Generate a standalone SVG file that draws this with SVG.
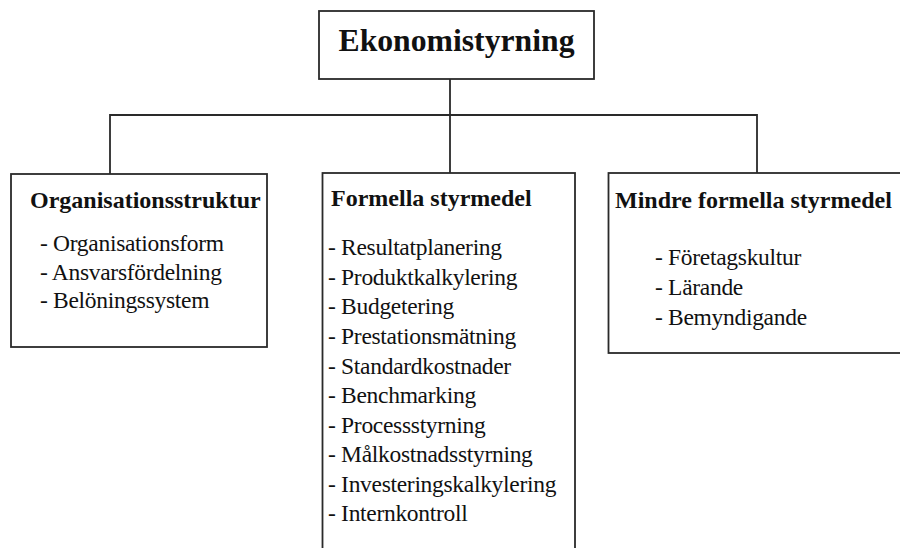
<svg xmlns="http://www.w3.org/2000/svg" width="900" height="548" viewBox="0 0 900 548">
<style>
.box{fill:#fff;stroke:#2a2a2a;stroke-width:1.8}
.con{fill:none;stroke:#2a2a2a;stroke-width:1.8}
.title{font-family:"Liberation Serif","Times New Roman",serif;font-weight:bold;font-size:31.7px;fill:#111}
.head{font-family:"Liberation Serif","Times New Roman",serif;font-weight:bold;font-size:24px;fill:#111}
.item{font-family:"Liberation Serif","Times New Roman",serif;font-size:23.5px;letter-spacing:-0.3px;fill:#111}
</style>
<rect width="900" height="548" fill="#fff"/>
<g id="connectors">
<path class="con" d="M450,79 V173 M110,174 V115 H757 V173"/>
</g>
<g id="root">
<rect class="box" x="319" y="11" width="275" height="68"/>
<text class="title" x="456.5" y="51" text-anchor="middle">Ekonomistyrning</text>
</g>
<g id="organisationsstruktur">
<rect class="box" x="11" y="174" width="256" height="173"/>
<text class="head" x="30" y="208">Organisationsstruktur</text>
<text class="item" x="40" y="251">- Organisationsform</text>
<text class="item" x="40" y="280">- Ansvarsfördelning</text>
<text class="item" x="40" y="308">- Belöningssystem</text>
</g>
<g id="formella">
<rect class="box" x="322.5" y="173" width="252.5" height="400"/>
<text class="head" x="331" y="206">Formella styrmedel</text>
<text class="item" x="328" y="255">- Resultatplanering</text>
<text class="item" x="328" y="284.5">- Produktkalkylering</text>
<text class="item" x="328" y="314">- Budgetering</text>
<text class="item" x="328" y="344">- Prestationsmätning</text>
<text class="item" x="328" y="373.5">- Standardkostnader</text>
<text class="item" x="328" y="403">- Benchmarking</text>
<text class="item" x="328" y="432.5">- Processstyrning</text>
<text class="item" x="328" y="462">- Målkostnadsstyrning</text>
<text class="item" x="328" y="491.5">- Investeringskalkylering</text>
<text class="item" x="328" y="521">- Internkontroll</text>
</g>
<g id="mindre-formella">
<rect class="box" x="608.5" y="173" width="300" height="180"/>
<text class="head" x="615" y="208">Mindre formella styrmedel</text>
<text class="item" x="655" y="265">- Företagskultur</text>
<text class="item" x="655" y="295">- Lärande</text>
<text class="item" x="655" y="325">- Bemyndigande</text>
</g>
</svg>
